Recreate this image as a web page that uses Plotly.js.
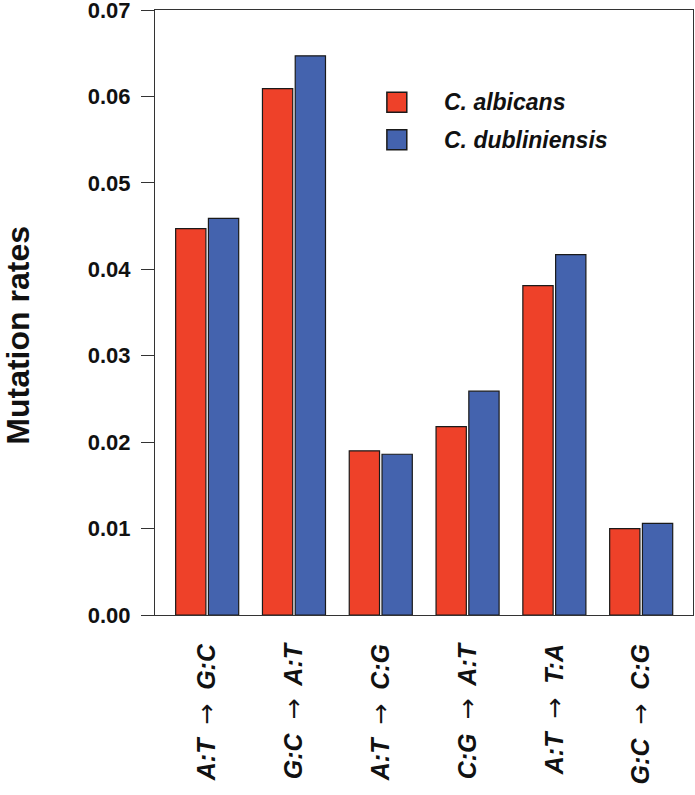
<!DOCTYPE html>
<html>
<head>
<meta charset="utf-8">
<script src="https://cdn.plot.ly/plotly-3.0.1.min.js"></script>
<style>html,body{margin:0;padding:0;background:#fff;}#chart{width:695px;height:795px;}</style>
</head>
<body>
<div id="chart"></div>
<script>
const categories = ["A:T \u2192 G:C", "G:C \u2192 A:T", "A:T \u2192 C:G", "C:G \u2192 A:T", "A:T \u2192 T:A", "G:C \u2192 C:G"];
const seriesNames = ["C. albicans", "C. dubliniensis"];
const albicans = [0.0447, 0.0609, 0.0190, 0.0218, 0.0381, 0.0100];
const dubliniensis = [0.0459, 0.0647, 0.0186, 0.0259, 0.0417, 0.0106];
const yTicks = [0, 0.01, 0.02, 0.03, 0.04, 0.05, 0.06, 0.07];
const yTickText = ["0.00", "0.01", "0.02", "0.03", "0.04", "0.05", "0.06", "0.07"];
const colors = ["#EE4129", "#4463AE"];

const FONT = "Liberation Sans, Arial, Helvetica, sans-serif";

// tick labels: same text, arrow drawn with a font that has the glyph
const catTickText = categories.map(c => c.replace(" \u2192 ",
  " \u00A0<span style=\"font-family:'DejaVu Sans';font-style:normal;font-weight:normal\">\u2192</span>\u00A0 "));

const traces = [albicans, dubliniensis].map((vals, i) => ({
  type: "bar",
  x: categories,
  y: vals,
  name: seriesNames[i],
  marker: {color: colors[i], line: {color: "#1a1a1a", width: 1.2}},
  showlegend: false,
  hoverinfo: "x+y"
}));

const shapes = [];
const annotations = [];
const legendY = [[0.831, 0.864], [0.769, 0.802]];
seriesNames.forEach((n, i) => {
  shapes.push({type: "rect", xref: "paper", yref: "paper",
    x0: 0.431, x1: 0.468, y0: legendY[i][0], y1: legendY[i][1],
    fillcolor: colors[i], line: {color: "#1a1a1a", width: 1.5}});
  annotations.push({xref: "paper", yref: "paper", x: 0.533, y: (legendY[i][0] + legendY[i][1]) / 2,
    xanchor: "left", yanchor: "middle", showarrow: false, text: n,
    font: {family: FONT, size: 23, color: "#111", weight: 700, style: "italic"}});
});
annotations.push({xref: "paper", yref: "paper", x: -0.255, y: 0.463, xanchor: "center", yanchor: "middle",
  showarrow: false, textangle: -90, text: "Mutation rates", borderpad: 0,
  font: {family: FONT, size: 32, color: "#111", weight: 700}});

const layout = {
  width: 695, height: 795,
  margin: {l: 155, r: 2, t: 10, b: 180, pad: 0},
  paper_bgcolor: "#fff", plot_bgcolor: "#fff",
  barmode: "group", bargap: 0.245, bargroupgap: 0.076,
  font: {family: FONT},
  xaxis: {
    type: "category", range: [-0.601, 5.597], showgrid: false, zeroline: false,
    showline: true, linecolor: "#333", linewidth: 1, mirror: true,
    ticks: "", tickangle: -90, ticklabelstandoff: 18, ticklabeloverflow: "allow",
    tickmode: "array", tickvals: categories, ticktext: catTickText,
    tickfont: {family: FONT, size: 25, color: "#111", weight: 700, style: "italic"}
  },
  yaxis: {
    range: [0, 0.07], showgrid: false, zeroline: false,
    showline: true, linecolor: "#333", linewidth: 1, mirror: true,
    ticks: "outside", ticklen: 13, tickcolor: "#333", tickwidth: 1,
    tickmode: "array", tickvals: yTicks, ticktext: yTickText, ticklabelstandoff: 6,
    ticklabeloverflow: "allow",
    tickfont: {family: FONT, size: 22, color: "#111", weight: 700}
  },
  shapes: shapes,
  annotations: annotations
};

Plotly.newPlot("chart", traces, layout, {staticPlot: true});
</script>
</body>
</html>
